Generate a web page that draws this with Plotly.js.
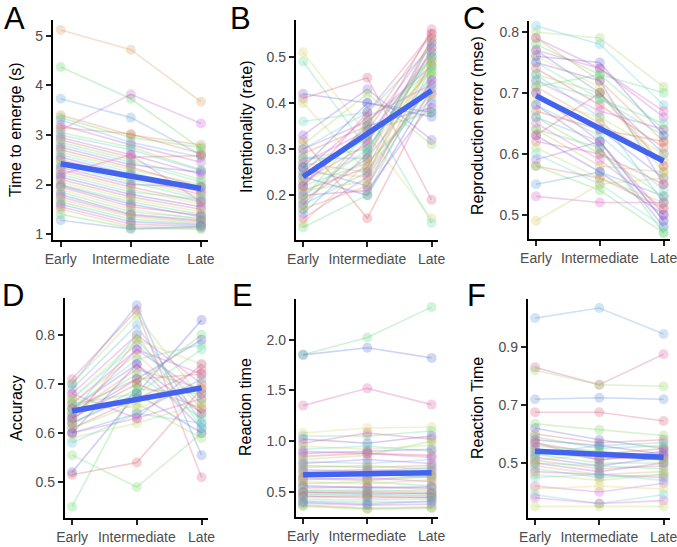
<!DOCTYPE html>
<html><head><meta charset="utf-8">
<script src="https://cdn.plot.ly/plotly-3.0.1.min.js"></script>
<style>body{margin:0;background:#fff}#c{width:677px;height:547px}</style>
</head><body><div id="c"></div>
<script>
const stages = ['Early','Intermediate','Late'];

// A: Time to emerge (s)
const aEarly = [5.12,4.37,3.73,3.10,3.40,3.35,3.30,3.20,3.15,3.05,3.00,2.95,2.90,2.85,2.80,2.75,2.70,2.65,2.60,2.55,2.50,2.45,2.40,2.35,2.30,2.25,2.20,2.15,2.10,2.05,2.00,1.98,1.95,1.90,1.85,1.80,1.75,1.70,1.65,1.60,1.55,1.50,1.40,1.28,2.20];
const aInter = [4.72,3.73,3.35,3.82,3.00,2.95,2.85,2.80,3.02,2.75,2.70,2.60,2.55,2.50,2.45,2.40,2.35,2.30,2.25,2.20,2.15,2.10,2.05,2.00,1.95,1.90,1.85,1.80,1.75,1.70,1.65,1.60,1.55,1.50,1.45,1.40,1.38,1.35,1.30,1.25,1.20,1.15,1.12,1.10,2.60];
const aLate  = [3.67,2.72,2.60,3.23,2.80,2.75,2.55,2.45,2.62,2.30,2.28,2.20,2.58,2.10,2.05,2.25,1.95,2.00,1.90,1.85,1.80,1.75,1.70,1.95,1.65,1.60,1.70,1.55,1.50,1.45,1.40,1.35,1.38,1.30,1.32,1.28,1.25,1.22,1.20,1.18,1.15,1.12,1.10,1.15,1.65];
const aFit = [2.42, 1.92];

// B: Intentionality (rate)
const bEarly = [0.51,0.49,0.42,0.41,0.40,0.36,0.33,0.32,0.31,0.30,0.30,0.29,0.28,0.28,0.27,0.27,0.26,0.26,0.25,0.25,0.24,0.24,0.23,0.23,0.22,0.22,0.21,0.21,0.20,0.20,0.19,0.19,0.18,0.18,0.17,0.17,0.16,0.15,0.14,0.13,0.26,0.22];
const bInter = [0.33,0.30,0.40,0.455,0.25,0.38,0.43,0.15,0.42,0.38,0.36,0.35,0.30,0.28,0.34,0.25,0.32,0.22,0.37,0.24,0.33,0.20,0.31,0.29,0.27,0.35,0.26,0.23,0.30,0.21,0.28,0.36,0.25,0.32,0.22,0.34,0.29,0.24,0.27,0.20,0.40,0.38];
const bLate  = [0.15,0.50,0.38,0.19,0.50,0.14,0.32,0.42,0.31,0.52,0.48,0.55,0.51,0.46,0.53,0.49,0.47,0.45,0.44,0.54,0.50,0.43,0.56,0.48,0.41,0.39,0.52,0.46,0.50,0.40,0.54,0.47,0.44,0.51,0.49,0.38,0.53,0.45,0.42,0.48,0.37,0.55];
const bFit = [0.240, 0.427];

// C: Reproduction error (mse)
const cEarly = [0.80,0.81,0.79,0.79,0.78,0.77,0.77,0.76,0.75,0.75,0.74,0.73,0.73,0.72,0.71,0.71,0.70,0.70,0.69,0.68,0.68,0.67,0.66,0.66,0.65,0.64,0.64,0.63,0.62,0.61,0.60,0.59,0.58,0.58,0.55,0.53,0.49,0.72,0.76,0.63];
const cInter = [0.79,0.78,0.74,0.72,0.73,0.70,0.74,0.71,0.69,0.72,0.68,0.70,0.66,0.67,0.65,0.73,0.64,0.62,0.66,0.63,0.61,0.64,0.60,0.62,0.59,0.58,0.61,0.57,0.60,0.56,0.55,0.62,0.56,0.54,0.57,0.52,0.55,0.69,0.75,0.70];
const cLate  = [0.71,0.68,0.66,0.62,0.64,0.60,0.67,0.58,0.63,0.55,0.61,0.57,0.52,0.64,0.59,0.70,0.56,0.50,0.60,0.54,0.48,0.62,0.53,0.49,0.51,0.57,0.47,0.50,0.55,0.52,0.48,0.49,0.51,0.47,0.53,0.52,0.56,0.65,0.63,0.58];
const cFit = [0.695, 0.588];

// D: Accuracy
const dEarly = [0.45,0.52,0.515,0.555,0.70,0.71,0.70,0.69,0.68,0.67,0.67,0.66,0.66,0.65,0.65,0.64,0.64,0.63,0.63,0.62,0.62,0.61,0.61,0.60,0.60,0.59,0.58,0.68,0.67,0.64,0.63,0.62,0.66,0.60,0.65];
const dInter = [0.70,0.68,0.54,0.49,0.86,0.85,0.84,0.82,0.80,0.79,0.78,0.77,0.76,0.75,0.74,0.73,0.72,0.71,0.70,0.69,0.68,0.67,0.66,0.64,0.63,0.62,0.64,0.63,0.65,0.80,0.77,0.79,0.68,0.74,0.71];
const dLate  = [0.80,0.83,0.69,0.60,0.555,0.51,0.67,0.62,0.70,0.74,0.66,0.72,0.64,0.78,0.61,0.69,0.63,0.79,0.65,0.68,0.60,0.73,0.59,0.71,0.67,0.66,0.62,0.74,0.70,0.61,0.68,0.65,0.77,0.64,0.72];
const dFit = [0.645, 0.692];

// E: Reaction time
const eEarly = [1.85,1.85,1.35,1.08,1.05,1.02,0.98,0.95,0.92,0.88,0.85,0.82,0.80,0.78,0.76,0.74,0.72,0.70,0.68,0.66,0.64,0.62,0.60,0.58,0.56,0.54,0.52,0.51,0.50,0.49,0.48,0.47,0.46,0.45,0.43,0.41,0.39,0.37,0.36,0.40,0.90,0.63];
const eInter = [2.02,1.92,1.52,1.13,1.05,0.98,1.08,0.92,0.95,0.90,0.88,0.86,0.78,0.82,0.74,0.76,0.70,0.72,0.66,0.68,0.62,0.64,0.58,0.60,0.54,0.55,0.50,0.52,0.48,0.50,0.46,0.48,0.44,0.46,0.42,0.40,0.37,0.34,0.33,0.38,0.88,0.61];
const eLate  = [2.32,1.82,1.36,1.14,1.10,1.05,1.02,0.96,0.90,0.92,0.86,1.00,0.82,0.78,0.76,0.72,0.74,0.70,0.68,0.64,0.66,0.60,0.62,0.56,0.55,0.53,0.52,0.50,0.49,0.48,0.47,0.46,0.45,0.44,0.43,0.40,0.38,0.35,0.34,0.41,0.84,0.65];
const eFit = [0.67, 0.69];

// F: Reaction Time
const fEarly = [1.00,0.83,0.82,0.72,0.675,0.635,0.62,0.60,0.59,0.58,0.57,0.56,0.55,0.54,0.53,0.52,0.51,0.50,0.50,0.49,0.48,0.47,0.46,0.45,0.42,0.41,0.39,0.38,0.35,0.53,0.57,0.51];
const fInter = [1.035,0.77,0.77,0.725,0.675,0.615,0.58,0.57,0.55,0.56,0.53,0.54,0.51,0.52,0.50,0.49,0.48,0.49,0.47,0.46,0.45,0.46,0.44,0.46,0.40,0.42,0.36,0.36,0.35,0.56,0.51,0.53];
const fLate  = [0.945,0.875,0.765,0.72,0.645,0.595,0.55,0.58,0.56,0.53,0.55,0.52,0.54,0.51,0.50,0.52,0.49,0.48,0.50,0.47,0.46,0.45,0.46,0.44,0.43,0.41,0.39,0.37,0.35,0.57,0.53,0.51];
const fFit = [0.54, 0.52];

const titles = ['Time to emerge (s)','Intentionality (rate)','Reproduction error (mse)','Accuracy','Reaction time','Reaction Time'];
const letters = ['A','B','C','D','E','F'];
const yTicks = [[1,2,3,4,5],[0.2,0.3,0.4,0.5],[0.5,0.6,0.7,0.8],[0.5,0.6,0.7,0.8],[0.5,1.0,1.5,2.0],[0.5,0.7,0.9]];

const panels = [
  {e:aEarly,m:aInter,l:aLate,fit:aFit},
  {e:bEarly,m:bInter,l:bLate,fit:bFit},
  {e:cEarly,m:cInter,l:cLate,fit:cFit},
  {e:dEarly,m:dInter,l:dLate,fit:dFit},
  {e:eEarly,m:eInter,l:eLate,fit:eFit},
  {e:fEarly,m:fInter,l:fLate,fit:fFit}
];

// layout geometry (pixels)
const W=677,H=547;
const geo = [
  {x0:53,x1:208,y0:20,y1:240, yr:[0.88,5.32], fmt:'d',  tx:15, ty:130, lx:14, ly:19},
  {x0:296,x1:438,y0:20,y1:240, yr:[0.103,0.58], fmt:'.1f', tx:247, ty:127, lx:241, ly:19},
  {x0:529,x1:670,y0:21,y1:239, yr:[0.46,0.818], fmt:'.1f', tx:477, ty:126, lx:474, ly:19},
  {x0:65,x1:208,y0:298,y1:518, yr:[0.427,0.875], fmt:'.1f', tx:16, ty:408, lx:13, ly:295},
  {x0:296,x1:438,y0:299,y1:517, yr:[0.253,2.40], fmt:'.1f', tx:245, ty:407, lx:242, ly:295},
  {x0:528,x1:670,y0:299,y1:518, yr:[0.31,1.066], fmt:'.1f', tx:477, ty:408, lx:476, ly:295}
];

function hslToRgb(h,s,l){
  s/=100;l/=100;
  const k=n=>(n+h/30)%12, a=s*Math.min(l,1-l);
  const f=n=>l-a*Math.max(-1,Math.min(k(n)-3,Math.min(9-k(n),1)));
  return [Math.round(255*f(0)),Math.round(255*f(8)),Math.round(255*f(4))];
}

const traces=[]; const layout={
  width:W,height:H,margin:{l:0,r:0,t:0,b:0},paper_bgcolor:'#fff',plot_bgcolor:'#fff',
  showlegend:false,font:{family:'Liberation Sans, Arial, sans-serif'},annotations:[]
};
const font = 'Liberation Sans, Arial, sans-serif';

panels.forEach((p,k)=>{
  const ax = k===0?'':String(k+1);
  const n = p.e.length;
  for(let i=0;i<n;i++){
    const idx=(i*11+3*k+2)%n;
    const h=(15+360*idx/n)%360;
    const [r,g,b]=hslToRgb(h,60,60);
    traces.push({
      x:stages, y:[p.e[i],p.m[i],p.l[i]], type:'scatter', mode:'lines+markers',
      xaxis:'x'+ax, yaxis:'y'+ax, hoverinfo:'skip', cliponaxis:false,
      line:{color:`rgba(${r},${g},${b},0.3)`,width:1.6},
      marker:{size:10,color:`rgba(${r},${g},${b},0.28)`,line:{width:0}}
    });
  }
  traces.push({
    x:[stages[0],stages[2]], y:p.fit, type:'scatter', mode:'lines',
    xaxis:'x'+ax, yaxis:'y'+ax, hoverinfo:'skip',
    line:{color:'#4263EE',width:5.5}
  });
  const g=geo[k];
  layout['xaxis'+ax]={
    domain:[g.x0/W,g.x1/W], anchor:'y'+ax, type:'category', categoryarray:stages,
    range:[-0.11,2.1], showline:true, linecolor:'#000', linewidth:2.2,
    ticks:'outside', ticklen:5, tickwidth:2, tickcolor:'#222', showgrid:false, zeroline:false,
    tickfont:{family:font,size:14,color:'#4d4d4d'}
  };
  layout['yaxis'+ax]={
    domain:[1-g.y1/H,1-g.y0/H], anchor:'x'+ax, range:g.yr, tickvals:yTicks[k], tickformat:g.fmt,
    showline:true, linecolor:'#000', linewidth:2.2,
    ticks:'outside', ticklen:5, tickwidth:2, tickcolor:'#222', showgrid:false, zeroline:false,
    tickfont:{family:font,size:14,color:'#4d4d4d'}
  };
  layout.annotations.push({
    text:titles[k], xref:'paper', yref:'paper', x:g.tx/W, y:1-g.ty/H, textangle:-90,
    xanchor:'center', yanchor:'middle', showarrow:false, font:{family:font,size:16,color:'#000'}
  });
  layout.annotations.push({
    text:letters[k], xref:'paper', yref:'paper', x:g.lx/W, y:1-g.ly/H,
    xanchor:'center', yanchor:'middle', showarrow:false, font:{family:font,size:31,color:'#000'}
  });
});

Plotly.newPlot('c',traces,layout,{staticPlot:true,displayModeBar:false});
</script></body></html>
